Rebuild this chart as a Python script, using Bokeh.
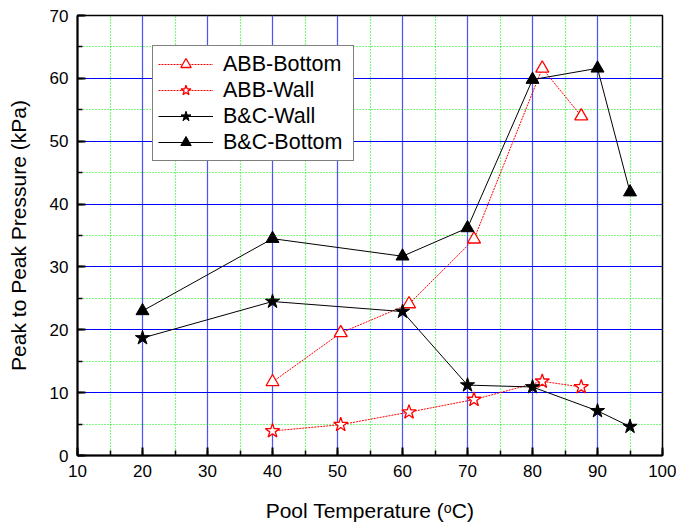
from bokeh.plotting import figure
from bokeh.models import SingleIntervalTicker, Range1d, Legend, LegendItem
from bokeh.embed import file_html
from bokeh.resources import INLINE

# ---- data ----
temp_abb = [40, 50.5, 61, 71, 81.5, 87.5]
abb_bottom = [11.7, 19.5, 24.1, 34.4, 61.6, 54.0]
abb_wall = [3.9, 4.9, 6.9, 8.9, 11.8, 10.9]

temp_bc = [20, 40, 60, 70, 80, 90, 95]
bc_wall = [18.7, 24.5, 22.9, 11.2, 10.9, 7.1, 4.6]
bc_bottom = [23.0, 34.5, 31.7, 36.2, 59.8, 61.6, 41.9]

x_label = "Pool Temperature (ᵒC)"
y_label = "Peak to Peak Pressure (kPa)"

FONT = "Liberation Sans"

p = figure(frame_width=585, frame_height=440,
           min_border_left=77, min_border_right=14,
           min_border_top=15, min_border_bottom=71,
           x_range=Range1d(10, 100), y_range=Range1d(0, 70),
           output_backend="svg", toolbar_location=None)

xt = SingleIntervalTicker(interval=10, num_minor_ticks=2)
yt = SingleIntervalTicker(interval=10, num_minor_ticks=2)
p.xaxis.ticker = xt
p.yaxis.ticker = yt
p.xgrid.ticker = xt
p.ygrid.ticker = yt

p.xgrid.grid_line_color = "#5050ff"
p.xgrid.grid_line_width = 1.2
p.ygrid.grid_line_color = "#0000ff"
p.ygrid.grid_line_width = 1
for g in (p.xgrid, p.ygrid):
    g.minor_grid_line_color = "#00ee00"
    g.minor_grid_line_dash = "1 2"
    g.minor_grid_line_width = 1.2

for ax in (p.xaxis, p.yaxis):
    ax.axis_line_color = "black"
    ax.axis_line_width = 2
    ax.major_tick_in = 8
    ax.major_tick_out = 0
    ax.minor_tick_in = 5
    ax.minor_tick_out = 0
    ax.major_tick_line_width = 2
    ax.minor_tick_line_width = 1.5
    ax.major_tick_line_color = "black"
    ax.minor_tick_line_color = "black"
    ax.major_label_text_font = FONT
    ax.major_label_text_font_size = "17px"
    ax.major_label_text_color = "black"
    ax.major_label_standoff = 9
    ax.axis_label_text_font = FONT
    ax.axis_label_text_font_size = "21px"
    ax.axis_label_text_font_style = "normal"
    ax.axis_label_text_color = "black"

p.xaxis.axis_label = x_label
p.yaxis.axis_label = y_label
p.xaxis.axis_label_standoff = 19
p.yaxis.axis_label_standoff = 17

p.outline_line_color = "black"
p.outline_line_width = 1.5
p.outline_line_alpha = 1

# ---- series ----
l1 = p.line(temp_abb, abb_bottom, line_color="red", line_width=1, line_dash="2 1")
s1 = p.scatter(temp_abb, abb_bottom, marker="triangle", size=13,
               line_color="red", fill_color="white", line_width=1.3)

l2 = p.line(temp_abb, abb_wall, line_color="red", line_width=1, line_dash="2 1")
s2 = p.scatter(temp_abb, abb_wall, marker="star", size=15,
               line_color="red", fill_color="white", line_width=1.3)

l3 = p.line(temp_bc, bc_wall, line_color="black", line_width=1)
s3 = p.scatter(temp_bc, bc_wall, marker="star", size=15,
               line_color="black", fill_color="black")

l4 = p.line(temp_bc, bc_bottom, line_color="black", line_width=1)
s4 = p.scatter(temp_bc, bc_bottom, marker="triangle", size=13,
               line_color="black", fill_color="black")

legend = Legend(items=[
    LegendItem(label="ABB-Bottom", renderers=[l1, s1]),
    LegendItem(label="ABB-Wall", renderers=[l2, s2]),
    LegendItem(label="B&C-Wall", renderers=[l3, s3]),
    LegendItem(label="B&C-Bottom", renderers=[l4, s4]),
], location=(75, 294))
legend.glyph_width = 55
legend.glyph_height = 26
legend.label_height = 26
legend.label_width = 125
legend.label_standoff = 10
legend.label_text_font = FONT
legend.label_text_font_size = "21.5px"
legend.label_text_color = "black"
legend.padding = 5
legend.spacing = 0
legend.margin = 0
legend.border_line_color = "black"
legend.border_line_width = 1
legend.background_fill_color = "white"
legend.background_fill_alpha = 1
p.add_layout(legend)

open("out.html", "w").write(file_html(p, INLINE))
